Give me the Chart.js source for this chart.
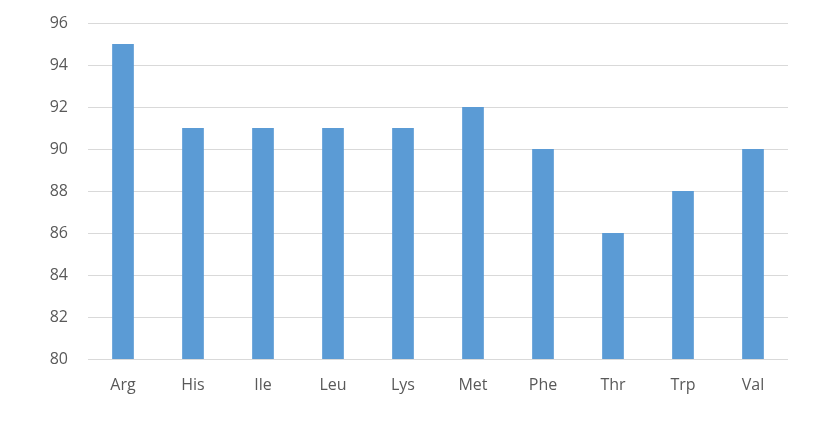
<!DOCTYPE html>
<html>
<head>
<meta charset="utf-8">
<script src="https://cdn.jsdelivr.net/npm/chart.js@4/dist/chart.umd.min.js"></script>
<style>
html,body{margin:0;padding:0;background:#fff;}
#wrap{width:820px;height:429px;position:relative;}
</style>
</head>
<body>
<div id="wrap"><canvas id="c" width="820" height="429"></canvas></div>
<script>
const categories = ["Arg","His","Ile","Leu","Lys","Met","Phe","Thr","Trp","Val"];
const values = [95, 91, 91, 91, 91, 92, 90, 86, 88, 90];
const yMin = 80, yMax = 96, yStep = 2;

new Chart(document.getElementById('c'), {
  type: 'bar',
  data: {
    labels: categories,
    datasets: [{
      data: values,
      backgroundColor: '#5B9BD5',
      borderWidth: 0,
      barPercentage: 0.31,
      categoryPercentage: 1.0
    }]
  },
  options: {
    responsive: false,
    animation: false,
    layout: { padding: { top: 23, right: 32, left: 0, bottom: 0 } },
    plugins: { legend: { display: false }, tooltip: { enabled: false } },
    scales: {
      x: {
        grid: { display: false },
        border: { display: false },
        ticks: { color: '#595959', font: { family: 'Open Sans', size: 16 }, padding: 9 },
        afterFit: s => { s.height = 70; s.paddingLeft = 0; s.paddingRight = 0; }
      },
      y: {
        min: yMin, max: yMax,
        grid: { color: '#d9d9d9', drawTicks: false, lineWidth: 1 },
        border: { display: false },
        ticks: { stepSize: yStep, color: '#595959', font: { family: 'Open Sans', size: 16 }, padding: 20 },
        afterFit: s => { s.width = 88; s.paddingTop = 0; s.paddingBottom = 0; }
      }
    }
  }
});
</script>
</body>
</html>
